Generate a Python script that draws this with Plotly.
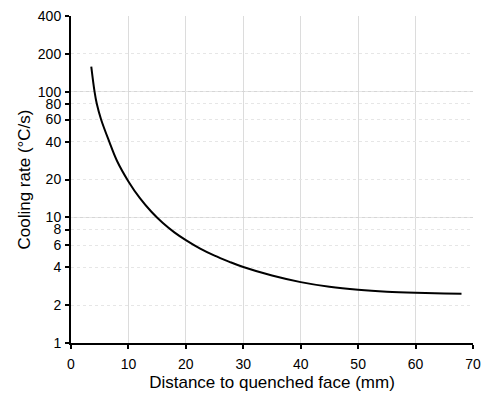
import plotly.graph_objects as go

distance_mm = [3.53, 4.1, 4.49, 5.24, 6.66, 8.0, 10.0, 12.0, 14.0, 16.0, 18.0, 20.0, 22.5, 25.0, 27.5, 30.0, 35.0, 40.0, 45.0, 50.0, 55.0, 60.0, 65.0, 68.0]
cooling_rate = [158, 100, 80, 60, 40, 28.2, 19.3, 14.2, 11.07, 9.0, 7.59, 6.58, 5.63, 4.95, 4.44, 4.02, 3.44, 3.05, 2.80, 2.65, 2.56, 2.51, 2.48, 2.47]

y_ticks = [1, 2, 4, 6, 8, 10, 20, 40, 60, 80, 100, 200, 400]
y_major = [1, 10, 100]
x_ticks = [0, 10, 20, 30, 40, 50, 60, 70]
x_grid = [10, 20, 30, 40, 50, 60]

fig = go.Figure()
fig.add_trace(go.Scatter(
    x=distance_mm, y=cooling_rate, mode="lines",
    line=dict(color="black", width=2, shape="spline", smoothing=1.0),
    showlegend=False, hoverinfo="skip",
))

font = dict(family="Liberation Sans, Arial, sans-serif", color="black")

fig.update_layout(
    width=489, height=399,
    margin=dict(l=71, r=8, t=14, b=56),
    paper_bgcolor="white", plot_bgcolor="white",
    font=dict(**font, size=14),
    xaxis=dict(
        range=[0, 70], tickvals=x_ticks, ticks="outside", ticklen=4,
        tickwidth=1.5, tickcolor="black", ticklabelstandoff=3,
        showline=True, linecolor="black", linewidth=2,
        showgrid=False, zeroline=False,
        minor=dict(tickvals=x_grid, showgrid=True, gridcolor="#dcdcdc",
                   gridwidth=1, ticks=""),
        title=dict(text="Distance to quenched face (mm)", font=dict(size=17), standoff=5),
        tickfont=dict(size=14),
    ),
    yaxis=dict(
        type="log", range=[0, 2.60206], tickvals=y_ticks,
        ticktext=[str(v) for v in y_ticks],
        ticks="outside", ticklen=4, tickwidth=1.5, tickcolor="black",
        ticklabelstandoff=1,
        showline=True, linecolor="black", linewidth=2,
        showgrid=True, gridcolor="#e6e6e6", gridwidth=1, griddash="dot",
        zeroline=False,
        minor=dict(tickvals=y_major, showgrid=True, gridcolor="#d6d6d6",
                   gridwidth=1, griddash="solid", ticks=""),
        title=dict(text="Cooling rate (°C/s)", font=dict(size=17), standoff=3),
        tickfont=dict(size=14),
    ),
)

fig.write_html("out.html")
